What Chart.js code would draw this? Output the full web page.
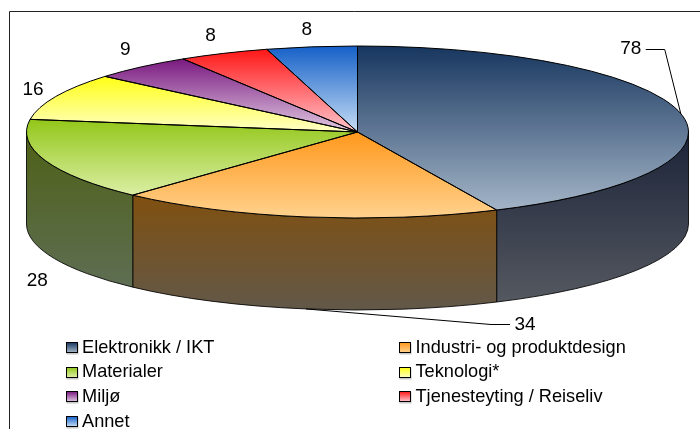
<!DOCTYPE html>
<html><head><meta charset="utf-8">
<style>html,body{margin:0;padding:0;background:#fff}canvas{display:block}</style>
<script src="https://cdn.jsdelivr.net/npm/chart.js@4"></script>
</head><body><canvas id="c" width="700" height="429"></canvas>
<script>
const categories = ['Elektronikk / IKT','Industri- og produktdesign','Materialer','Teknologi*','Miljø','Tjenesteyting / Reiseliv','Annet'];
const values = [78,34,28,16,9,8,8];
const topColors = ['#17365f','#ff981c','#93c71a','#ffff14','#78177f','#ff1616','#1560c8'];
const lowColors = ['#a5b6c8','#ffd28e','#dcefa6','#ffffc4','#dfc6e0','#ffc4cc','#c4dcf4'];
const lowYs = [212,218,196,131,131,131,131];
const topYs = [46,132,120,76,58,49,46];
const wallTop = ['#1b2338','#805010','#4e6016'];
const wallLow = ['#575b62','#625848','#60705c'];

const RADIUS=331, K=86/331, DEPTH=92, LABEL_FONT='19px "Liberation Sans", Arial, sans-serif', LEGEND_FONT='18.2px "Liberation Sans", Arial, sans-serif';
// label offset from the slice's rim point
const labelOffsets = [[-50,-64.5],[219,107.5],[-8,120],[-23,-7],[-16,-17.5],[-13,-17.5],[-5,-17.5]];
const canvas=document.getElementById('c');
let CY=132;
const toPieY = Y => CY+(Y-CY)/K;
function sliceFill(c){
  const g=c.chart.ctx.createLinearGradient(0,toPieY(topYs[c.dataIndex]),0,toPieY(lowYs[c.dataIndex]));
  g.addColorStop(0,topColors[c.dataIndex]);g.addColorStop(1,lowColors[c.dataIndex]);
  return g;
}
function arcs(chart){return chart.getDatasetMeta(0).data.map(a=>a.getProps(['x','y','startAngle','endAngle','outerRadius']));}
const pie3d={id:'pie3d',
  beforeDraw(chart){
    const ctx=chart.ctx;
    ctx.save();ctx.strokeStyle='#222';ctx.lineWidth=1;ctx.beginPath();ctx.moveTo(9.5,429);ctx.lineTo(9.5,11.5);ctx.lineTo(700,11.5);ctx.stroke();ctx.restore();
  },
  beforeDatasetsDraw(chart){
    const ctx=chart.ctx;
    arcs(chart).forEach((a,i)=>{
      const s=Math.max(a.startAngle,0),e=Math.min(a.endAngle,Math.PI);
      if(e<=s)return;
      const r=a.outerRadius,b=r*K;
      const y0=a.y+b*Math.min(Math.sin(s),Math.sin(e));
      const g=ctx.createLinearGradient(0,s<=0||e>=Math.PI?a.y:y0,0,a.y+b+DEPTH);
      g.addColorStop(0,wallTop[i]);g.addColorStop(1,wallLow[i]);
      ctx.beginPath();
      ctx.ellipse(a.x,a.y,r,b,0,s,e);
      ctx.ellipse(a.x,a.y+DEPTH,r,b,0,e,s,true);
      ctx.closePath();
      ctx.fillStyle=g;ctx.fill();
      ctx.strokeStyle='rgba(0,0,0,.85)';ctx.lineWidth=1;ctx.stroke();
    });
  },
  beforeDatasetDraw(chart){
    const ctx=chart.ctx,a=chart.getDatasetMeta(0).data[0];
    ctx.save();ctx.translate(0,a.y);ctx.scale(1,K);ctx.translate(0,-a.y);
  },
  afterDatasetDraw(chart){chart.ctx.restore();},
  afterDatasetsDraw(chart){
    const ctx=chart.ctx;
    ctx.save();
    ctx.strokeStyle='#000';ctx.lineWidth=1;
    arcs(chart).forEach(a=>{
      const r=a.outerRadius,b=r*K;
      ctx.beginPath();
      ctx.moveTo(a.x,a.y);
      ctx.ellipse(a.x,a.y,r,b,0,a.startAngle,a.endAngle);
      ctx.closePath();ctx.stroke();
    });
    // value labels and leaders
    ctx.font=LABEL_FONT;ctx.fillStyle='#000';ctx.textAlign='center';ctx.textBaseline='middle';
    arcs(chart).forEach((a,i)=>{
      const m=(a.startAngle+a.endAngle)/2,r=a.outerRadius,b=r*K;
      const px=a.x+r*Math.cos(m),py=a.y+b*Math.sin(m);
      const lx=px+labelOffsets[i][0],ly=py+labelOffsets[i][1];
      ctx.fillText(String(values[i]),lx,ly);
      if(i<2){
        const sgn=i===0?1:-1, sy=i===1?py+DEPTH:py;
        ctx.beginPath();ctx.moveTo(px,sy);
        ctx.lineTo(lx+sgn*34,Math.round(ly)+.5);
        ctx.lineTo(lx+sgn*15,Math.round(ly)+.5);
        ctx.stroke();
      }
    });
    // legend
    ctx.font=LEGEND_FONT;ctx.textAlign='left';
    categories.forEach((t,i)=>{
      const col=i%2,row=Math.floor(i/2);
      const x=col?399.5:66.5,y=342.5+row*24.7;
      const sx=Math.round(x-.5)+.5,sy=Math.round(y-.5)+.5;
      ctx.fillStyle='#c8c8c8';ctx.fillRect(sx,sy+1,12,11);
      const g=ctx.createLinearGradient(0,sy,0,sy+10);
      g.addColorStop(0,topColors[i]);g.addColorStop(1,lowColors[i]);
      ctx.fillStyle=g;ctx.fillRect(sx,sy,11,10);
      ctx.strokeStyle='#000';ctx.strokeRect(sx,sy,11,10);
      ctx.fillStyle='#000';
      ctx.fillText(t,col?415.5:82,y+5);
    });
    ctx.restore();
  }
};
new Chart(canvas,{
  type:'pie',
  data:{labels:categories,datasets:[{data:values,backgroundColor:sliceFill,borderWidth:0,radius:RADIUS,clip:3000}]},
  options:{responsive:false,animation:false,devicePixelRatio:1,
    layout:{padding:{left:15,right:0,top:0,bottom:165}},
    plugins:{legend:{display:false},tooltip:{enabled:false},title:{display:false}}},
  plugins:[pie3d]
});
</script></body></html>
